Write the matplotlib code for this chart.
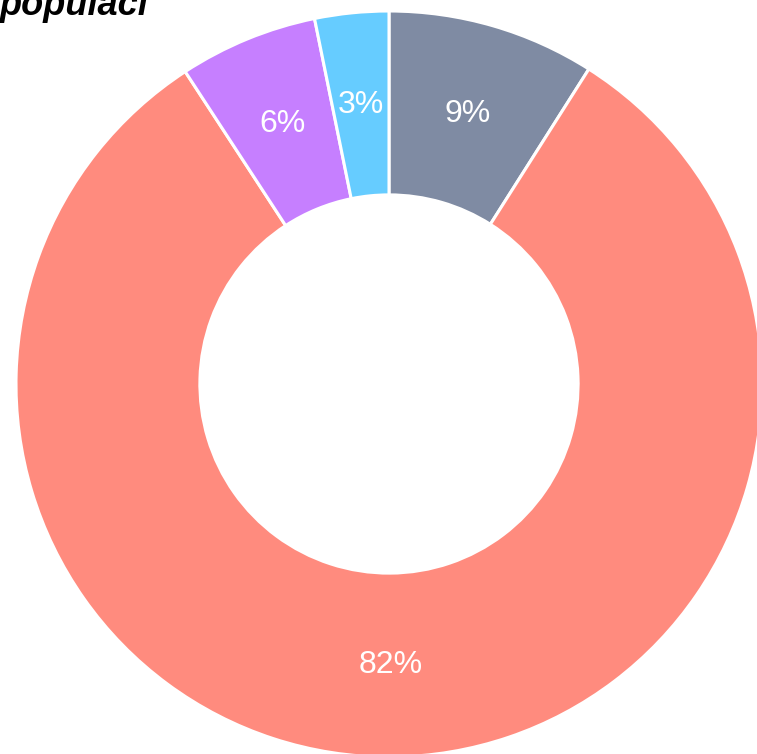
#!/usr/bin/python3

# donut chart of population shares, saved to out.png

import sys
from typing import List

import matplotlib
matplotlib.use('Agg')
import matplotlib.pyplot as plt

labels = ['a', 'b', 'c', 'd']
shares = [9.0, 81.8, 6.0, 3.2]
colors = ['#7f8ba3', '#ff8b7e', '#c67fff', '#66ccff']
title = 'populaci'

def output_plot(fn: str) -> None:
    # 757x754 px at 100 dpi
    fig = plt.figure(figsize=(7.57, 7.54), dpi=100)
    ax = fig.add_axes([0, 0, 1, 1])
    ax.pie(shares, colors=colors, startangle=90, counterclock=False,
           radius=1.0,
           autopct=lambda p: f'{p:.0f}%', pctdistance=0.753,
           wedgeprops=dict(width=0.493, edgecolor='white', linewidth=2.2),
           textprops=dict(color='white', fontsize=23,
                          family=['Liberation Sans', 'DejaVu Sans']))
    # centre of ring at pixel (389, 384), outer radius 373 px
    scale = 373.0
    ax.set_aspect('auto')
    ax.set_xlim(-389 / scale, (757 - 389) / scale)
    ax.set_ylim(-(754 - 384) / scale, 384 / scale)
    ax.axis('off')
    # the title sits partly above the top edge, as in the original
    fig.text(0.0, 1 - 15 / 754, title, ha='left', va='baseline',
             fontsize=26, fontweight='bold', fontstyle='italic',
             family=['Liberation Sans', 'DejaVu Sans'])
    fig.savefig(fn, dpi=100)

def main(argv: List[str]) -> int:
    output_plot('out.png')
    return 0

if __name__ == '__main__':
    sys.exit(main(sys.argv))
